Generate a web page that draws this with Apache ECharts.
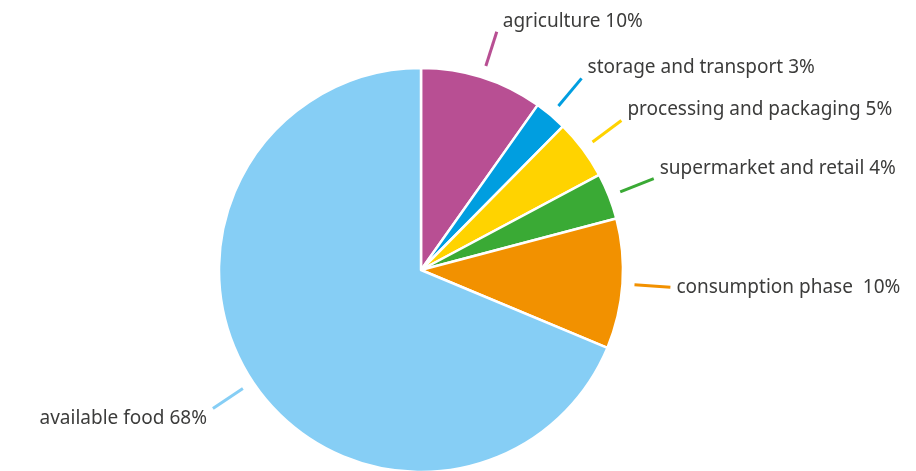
<!DOCTYPE html>
<html>
<head>
<meta charset="utf-8">
<script src="https://cdn.jsdelivr.net/npm/echarts@6/dist/echarts.min.js"></script>
<style>
html,body{margin:0;padding:0;background:#fff;}
#chart{width:916px;height:471px;}
</style>
</head>
<body>
<div id="chart"></div>
<script>
const categories = ['agriculture', 'storage and transport', 'processing and packaging', 'supermarket and retail', 'consumption phase', 'available food'];
const values = [9.8, 2.6, 4.8, 3.7, 10.4, 68.7];
const labels = ['agriculture 10%', 'storage and transport 3%', 'processing and packaging 5%', 'supermarket and retail 4%', 'consumption phase  10%', 'available food 68%'];
const colors = ['#B84F93', '#009EE0', '#FFD300', '#3AAA35', '#F29100', '#86CEF5'];
// vertical placement of each label text relative to its label line: -1 above, 0 centred, 1 below
const labelShift = [-1, -1, -1, -1, 0, 1];

const chart = echarts.init(document.getElementById('chart'));
const pieData = categories.map((c, i) => ({
  name: c, value: values[i],
  itemStyle: { color: colors[i] }
}));
const labelData = categories.map((c, i) => ({
  name: c, value: values[i],
  itemStyle: { color: 'rgba(0,0,0,0)', borderWidth: 0 },
  labelLine: { lineStyle: { color: colors[i], width: 3 } }
}));
chart.setOption({
  animation: false,
  series: [
    {
      type: 'pie',
      center: [421, 270],
      radius: [0, 202],
      startAngle: 90,
      clockwise: true,
      silent: true,
      avoidLabelOverlap: false,
      itemStyle: { borderColor: '#fff', borderWidth: 2.5 },
      label: { show: false },
      labelLine: { show: false },
      data: pieData
    },
    {
      type: 'pie',
      center: [421, 270],
      radius: [213, 214],
      startAngle: 90,
      clockwise: true,
      silent: true,
      avoidLabelOverlap: false,
      label: {
        show: true,
        position: 'outside',
        alignTo: 'none',
        distanceToLabelLine: 6,
        fontFamily: 'Noto Sans',
        fontSize: 19,
        lineHeight: 21,
        color: '#3c3c3b',
        formatter: p => {
          const s = labelShift[p.dataIndex];
          const t = labels[p.dataIndex];
          return s < 0 ? t + '\n ' : (s > 0 ? ' \n' + t : t);
        }
      },
      labelLine: { show: true, length: 36, length2: 0, smooth: false },
      data: labelData
    }
  ]
});
</script>
</body>
</html>
